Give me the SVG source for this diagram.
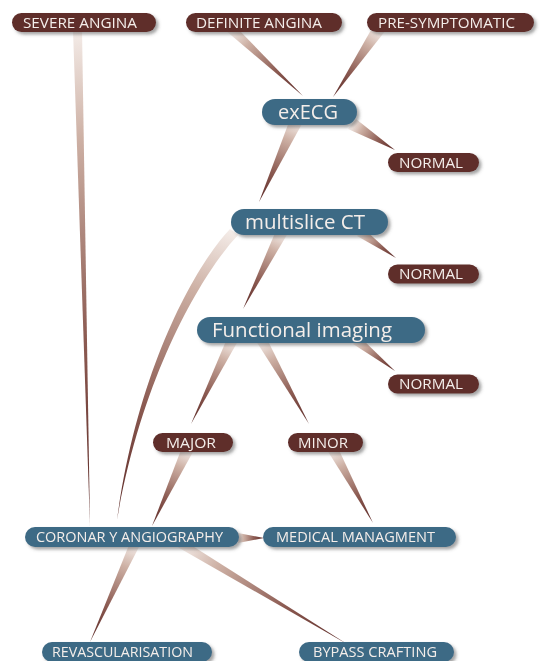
<svg xmlns="http://www.w3.org/2000/svg" width="542" height="661" viewBox="0 0 542 661">
<style>
.red{fill:#5f2d2a}
.blue{fill:#3e6a85}
.t{font-family:"Open Sans","Noto Sans",sans-serif;font-size:14px;fill:#f4eeea}
.big{font-size:19.5px}
.node{filter:url(#sh)}
</style>
<defs>
<filter id="sh" x="-10%" y="-40%" width="125%" height="200%">
<feDropShadow dx="2.5" dy="2.5" stdDeviation="1.6" flood-color="#4a4a4a" flood-opacity="0.5"/>
</filter>
<linearGradient id="base">
<stop offset="0" stop-color="#f4ece8"/>
<stop offset="0.22" stop-color="#cdb0a4"/>
<stop offset="0.62" stop-color="#8c5b52"/>
<stop offset="1" stop-color="#5c2926"/>
</linearGradient>
<linearGradient id="g1" href="#base" gradientUnits="userSpaceOnUse" x1="77" y1="30" x2="90" y2="526"/>
<linearGradient id="g2" href="#base" gradientUnits="userSpaceOnUse" x1="232" y1="30" x2="303" y2="96"/>
<linearGradient id="g3" href="#base" gradientUnits="userSpaceOnUse" x1="378" y1="30" x2="333" y2="97"/>
<linearGradient id="g4" href="#base" gradientUnits="userSpaceOnUse" x1="296" y1="122" x2="259" y2="202"/>
<linearGradient id="g5" href="#base" gradientUnits="userSpaceOnUse" x1="352" y1="124" x2="395" y2="150"/>
<linearGradient id="g6" href="#base" gradientUnits="userSpaceOnUse" x1="360" y1="232" x2="396" y2="258"/>
<linearGradient id="g7" href="#base" gradientUnits="userSpaceOnUse" x1="281" y1="233" x2="243" y2="309"/>
<linearGradient id="g8" href="#base" gradientUnits="userSpaceOnUse" x1="234" y1="232" x2="117" y2="520"/>
<linearGradient id="g9" href="#base" gradientUnits="userSpaceOnUse" x1="232" y1="341" x2="191" y2="424"/>
<linearGradient id="g10" href="#base" gradientUnits="userSpaceOnUse" x1="262" y1="341" x2="309" y2="424"/>
<linearGradient id="g11" href="#base" gradientUnits="userSpaceOnUse" x1="356" y1="340" x2="395" y2="371"/>
<linearGradient id="g12" href="#base" gradientUnits="userSpaceOnUse" x1="187" y1="450" x2="152" y2="526"/>
<linearGradient id="g13" href="#base" gradientUnits="userSpaceOnUse" x1="333" y1="450" x2="373" y2="523"/>
<linearGradient id="g14" href="#base" gradientUnits="userSpaceOnUse" x1="238" y1="538" x2="264" y2="538"/>
<linearGradient id="g15" href="#base" gradientUnits="userSpaceOnUse" x1="134" y1="545" x2="90" y2="642"/>
<linearGradient id="g16" href="#base" gradientUnits="userSpaceOnUse" x1="182" y1="545" x2="347" y2="644"/>
</defs>
<rect width="542" height="661" fill="#ffffff"/>
<g id="connectors">
<polygon points="73,30 82,30 90,526" fill="url(#g1)"/>
<polygon points="225,30 239,30 303,96" fill="url(#g2)"/>
<polygon points="371,30 386,30 333,97" fill="url(#g3)"/>
<polygon points="289,122 303,122 259,202" fill="url(#g4)"/>
<polygon points="356,119 348,129 395,150" fill="url(#g5)"/>
<polygon points="363,228 357,236 396,258" fill="url(#g6)"/>
<polygon points="275,233 288,233 243,309" fill="url(#g7)"/>
<path d="M230,229 C195,266 137,370 117,520 C143,370 205,270 238,235 Z" fill="url(#g8)"/>
<polygon points="226,341 238,341 191,424" fill="url(#g9)"/>
<polygon points="256,341 268,341 309,424" fill="url(#g10)"/>
<polygon points="359,336 353,344 395,371" fill="url(#g11)"/>
<polygon points="181,450 194,450 152,526" fill="url(#g12)"/>
<polygon points="327,450 339,450 373,523" fill="url(#g13)"/>
<polygon points="238,533 238,543 264,538" fill="url(#g14)"/>
<polygon points="129,545 140,545 90,642" fill="url(#g15)"/>
<polygon points="174,545 191,545 347,644" fill="url(#g16)"/>
</g>
<g id="severe-angina" class="node"><rect class="red" x="12" y="13" width="144" height="19" rx="9.5"/><text class="t" x="23" y="27.5" textLength="114" lengthAdjust="spacingAndGlyphs">SEVERE ANGINA</text></g>
<g id="definite-angina" class="node"><rect class="red" x="186" y="13" width="156" height="19" rx="9.5"/><text class="t" x="196" y="27.5" textLength="126" lengthAdjust="spacingAndGlyphs">DEFINITE ANGINA</text></g>
<g id="pre-symptomatic" class="node"><rect class="red" x="367" y="13" width="167" height="19" rx="9.5"/><text class="t" x="378" y="27.5" textLength="137" lengthAdjust="spacingAndGlyphs">PRE-SYMPTOMATIC</text></g>
<g id="execg" class="node"><rect class="blue" x="262" y="99" width="95" height="26" rx="13"/><text class="t big" x="278" y="119" textLength="60" lengthAdjust="spacingAndGlyphs">exECG</text></g>
<g id="normal-1" class="node"><rect class="red" x="388" y="153" width="91" height="19" rx="9.5"/><text class="t" x="399" y="167.5" textLength="64" lengthAdjust="spacingAndGlyphs">NORMAL</text></g>
<g id="multislice-ct" class="node"><rect class="blue" x="231" y="209" width="157" height="26" rx="13"/><text class="t big" x="245" y="229" textLength="120" lengthAdjust="spacingAndGlyphs">multislice CT</text></g>
<g id="normal-2" class="node"><rect class="red" x="388" y="264.5" width="91" height="19" rx="9.5"/><text class="t" x="399" y="279" textLength="64" lengthAdjust="spacingAndGlyphs">NORMAL</text></g>
<g id="functional-imaging" class="node"><rect class="blue" x="197" y="317" width="228" height="26" rx="13"/><text class="t big" x="212" y="337" textLength="180" lengthAdjust="spacingAndGlyphs">Functional imaging</text></g>
<g id="normal-3" class="node"><rect class="red" x="388" y="374.5" width="91" height="19" rx="9.5"/><text class="t" x="399" y="389" textLength="64" lengthAdjust="spacingAndGlyphs">NORMAL</text></g>
<g id="major" class="node"><rect class="red" x="153" y="433" width="80" height="19" rx="9.5"/><text class="t" x="166" y="447.5" textLength="50" lengthAdjust="spacingAndGlyphs">MAJOR</text></g>
<g id="minor" class="node"><rect class="red" x="288" y="433" width="75" height="19" rx="9.5"/><text class="t" x="298" y="447.5" textLength="50" lengthAdjust="spacingAndGlyphs">MINOR</text></g>
<g id="coronary-angiography" class="node"><rect class="blue" x="25" y="527" width="214" height="20" rx="10"/><text class="t" x="36" y="542" textLength="187" lengthAdjust="spacingAndGlyphs">CORONAR Y ANGIOGRAPHY</text></g>
<g id="medical-managment" class="node"><rect class="blue" x="263" y="527" width="193" height="20" rx="10"/><text class="t" x="276" y="542" textLength="159" lengthAdjust="spacingAndGlyphs">MEDICAL MANAGMENT</text></g>
<g id="revascularisation" class="node"><rect class="blue" x="42" y="642" width="170" height="20" rx="10"/><text class="t" x="52" y="657" textLength="141" lengthAdjust="spacingAndGlyphs">REVASCULARISATION</text></g>
<g id="bypass-crafting" class="node"><rect class="blue" x="299" y="642" width="155" height="20" rx="10"/><text class="t" x="313" y="657" textLength="124" lengthAdjust="spacingAndGlyphs">BYPASS CRAFTING</text></g>
</svg>
